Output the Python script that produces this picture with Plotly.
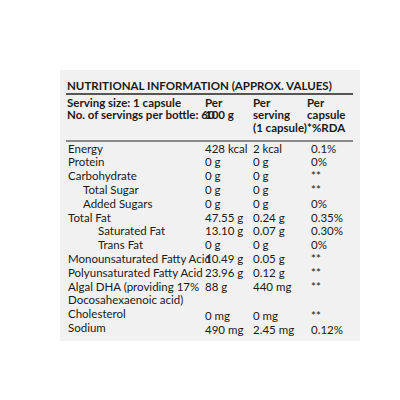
import plotly.graph_objects as go

title = "NUTRITIONAL INFORMATION (APPROX. VALUES)"
header_label = ["Serving size: 1 capsule", "No. of servings per bottle: 60"]
header_cols = [["Per", "100 g"], ["Per", "serving", "(1 capsule)"], ["Per", "capsule", "*%RDA"]]

nutrients = ["Energy", "Protein", "Carbohydrate", "Total Sugar", "Added Sugars", "Total Fat",
             "Saturated Fat", "Trans Fat", "Monounsaturated Fatty Acid", "Polyunsaturated Fatty Acid",
             "Algal DHA (providing 17%", "Docosahexaenoic acid)", "Cholesterol", "Sodium"]
indent = [0, 0, 0, 1, 1, 0, 2, 2, 0, 0, 0, 0, 0, 0]
per_100g = ["428 kcal", "0 g", "0 g", "0 g", "0 g", "47.55 g", "13.10 g", "0 g",
            "10.49 g", "23.96 g", "88 g", "", "0 mg", "490 mg"]
per_serving = ["2 kcal", "0 g", "0 g", "0 g", "0 g", "0.24 g", "0.07 g", "0 g",
               "0.05 g", "0.12 g", "440 mg", "", "0 mg", "2.45 mg"]
rda = ["0.1%", "0%", "**", "**", "0%", "0.35%", "0.30%", "0%", "**", "**", "**", "", "**", "0.12%"]

FONT = "Lato"
fig = go.Figure()

# panel background
fig.add_shape(type="rect", x0=52, x1=352, y0=62, y1=333, fillcolor="#f1f1f1", line_width=0, layer="below")
fig.add_shape(type="line", x0=58, x1=345, y0=86, y1=86, line=dict(color="#222", width=1.5))
fig.add_shape(type="line", x0=58, x1=345, y0=133, y1=133, line=dict(color="#222", width=1.2))

def txt(x, y, s, bold=True, size=11.5):
    fig.add_annotation(x=x, y=y, text=f"<b>{s}</b>" if bold else s, showarrow=False,
                       xanchor="left", yanchor="middle",
                       font=dict(family=FONT, size=size, color="#1a1a1a"))

txt(57, 77, title, size=11.5)
for i, s in enumerate(header_label):
    txt(57, 94 + i * 12.5, s)
for col, x in zip(header_cols, [195, 243, 297]):
    for i, s in enumerate(col):
        txt(x, 94 + i * 12.5, s)

col_x = [195, 243, 301]
for i, name in enumerate(nutrients):
    y = 140 + i * 13.8
    txt(58 + indent[i] * 15, y, name, bold=False)
    yv = y + (2 if i >= 12 else 0)
    txt(col_x[0], yv, per_100g[i], bold=False)
    txt(col_x[1], yv, per_serving[i], bold=False)
    txt(col_x[2], yv, rda[i], bold=False)

fig.update_xaxes(range=[0, 400], visible=False)
fig.update_yaxes(range=[400, 0], visible=False)
fig.update_layout(width=400, height=400, margin=dict(l=0, r=0, t=0, b=0),
                  plot_bgcolor="white", paper_bgcolor="white", showlegend=False)
fig.write_html("out.html")
